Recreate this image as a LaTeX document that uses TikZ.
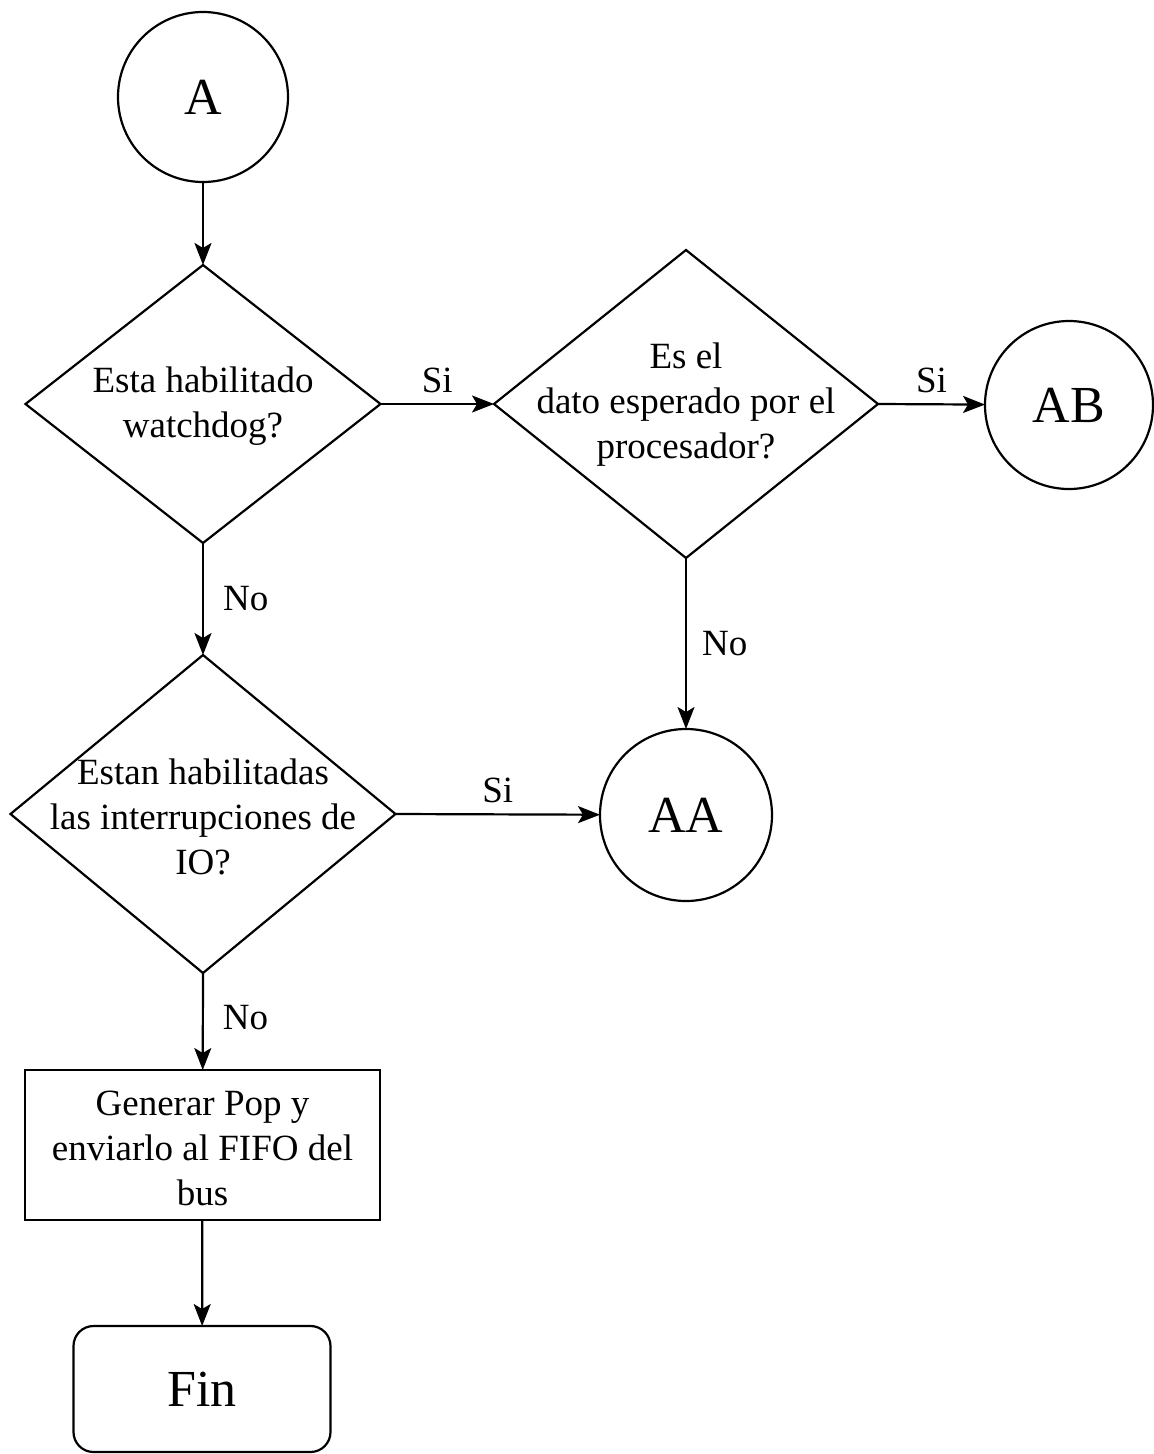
\documentclass[tikz,border=0pt]{standalone}
\usepackage{fontspec}
\setmainfont{Liberation Serif}
\usetikzlibrary{shapes.geometric,arrows.meta}
\begin{document}
\begin{tikzpicture}[x=1pt,y=-1pt,
  base/.style={draw, line width=2.2pt, outer sep=0pt, inner sep=0pt},
  decision/.style={base, diamond},
  connector/.style={base, circle, font=\fontsize{52}{60}\selectfont},
  process/.style={base, rectangle},
  terminal/.style={base, rectangle, rounded corners=20pt, font=\fontsize{52}{60}\selectfont},
  txt/.style={align=center, inner sep=0pt, font=\fontsize{37}{45}\selectfont},
  lbl/.style={inner sep=0pt, font=\fontsize{37}{45}\selectfont},
  flow/.style={line width=2.2pt, arrows={-Stealth[length=22pt, width=17pt, inset=5pt]}}]
\useasboundingbox (0,0) rectangle (1154,1454);

% start connector
\node[connector, minimum size=170pt] (A) at (203,97) {A};

% decisions
\node[decision, minimum width=355pt, minimum height=278pt] (d1) at (203,404) {};
\node[txt] at (203,406) {Esta habilitado\\watchdog?};

\node[decision, minimum width=384pt, minimum height=308pt] (d2) at (686,404) {};
\node[txt] at (686,405) {Es el\\dato esperado por el\\procesador?};

\node[decision, minimum width=385pt, minimum height=318pt] (d3) at (203,814) {};
\node[txt] at (203,817) {Estan habilitadas\\las interrupciones de\\IO?};

% off-page connectors
\node[connector, minimum size=168pt] (AB) at (1069,405) {AB};
\node[connector, minimum size=172pt] (AA) at (686,815) {AA};

% action and end
\node[process, minimum width=355pt, minimum height=150pt] (p1) at (202.5,1145) {};
\node[txt] at (202.5,1148) {Generar Pop y\\enviarlo al FIFO del\\bus};

\node[terminal, minimum width=257pt, minimum height=126pt] (fin) at (202,1389) {Fin};

% connectors
\draw[flow] (A) -- (d1);
\draw[flow] (d1.east) -- node[lbl, midway, above=10pt] {Si} (d2.west);
\draw[flow] (d2.east) -- node[lbl, midway, above=10pt] {Si} (AB);
\draw[flow] (d2.south) -- node[lbl, midway, right=15pt] {No} (AA);
\draw[flow] (d1.south) -- node[lbl, midway, right=19pt] {No} (d3.north);
\draw[flow] (d3.east) -- node[lbl, midway, above=10pt] {Si} (AA);
\draw[flow] (d3.south) -- node[lbl, midway, right=19pt, yshift=4pt] {No} (p1);
\draw[flow] (p1) -- (fin);
\end{tikzpicture}
\end{document}
